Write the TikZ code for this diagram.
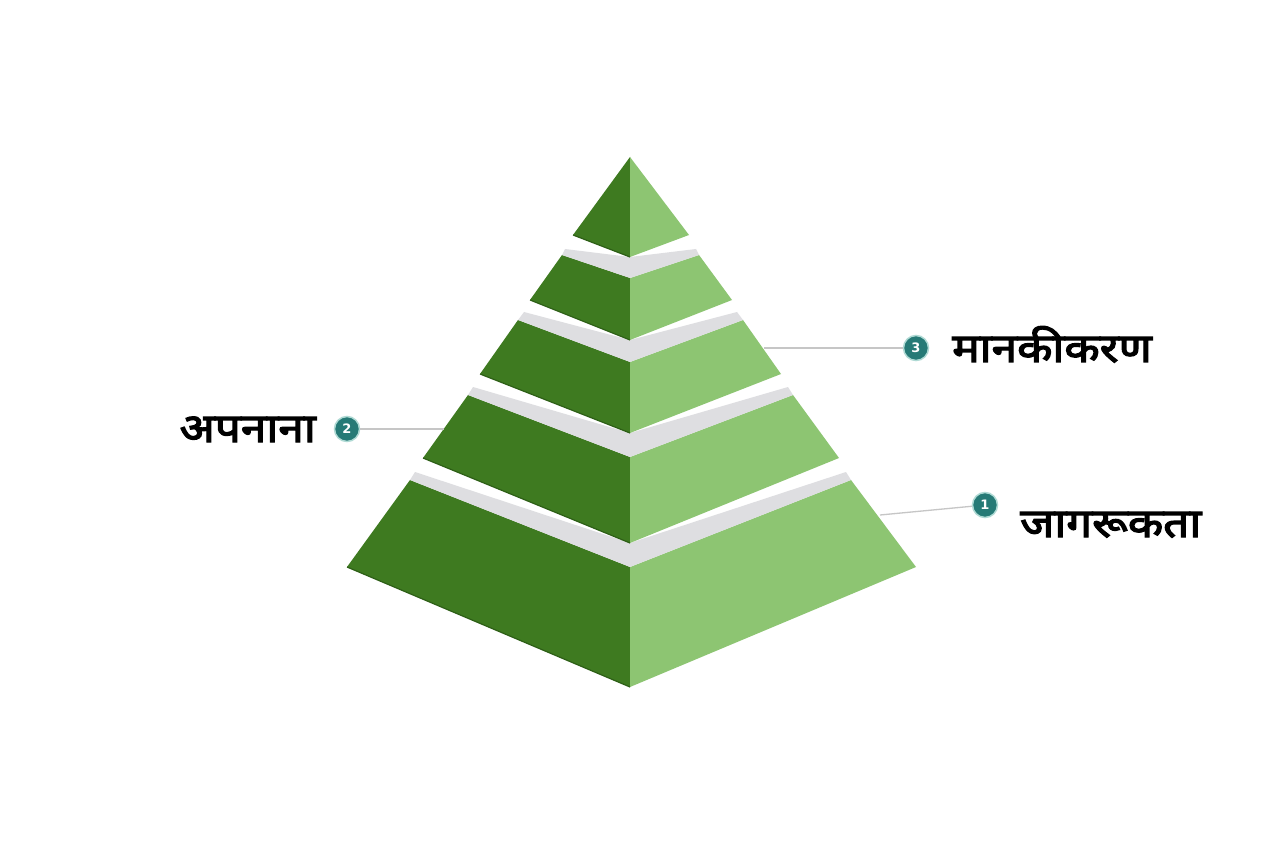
\documentclass[tikz,border=0pt]{standalone}
\usepackage{fontspec}
\setmainfont{Noto Sans}
\newfontfamily\deva[Script=Devanagari,FakeBold=3.2,FakeStretch=1.15]{Noto Sans}
\newfontfamily\numfont{DejaVu Sans}
\definecolor{darkface}{RGB}{62,122,32}
\definecolor{darkedge}{RGB}{45,95,22}
\definecolor{lightface}{RGB}{141,197,114}
\definecolor{topface}{RGB}{222,222,225}
\definecolor{badgefill}{RGB}{38,122,118}
\definecolor{badgerim}{RGB}{175,218,212}
\definecolor{leader}{RGB}{198,198,198}
\tikzset{
  dface/.style={fill=darkface},
  lface/.style={fill=lightface},
  tface/.style={fill=topface},
  bottomline/.style={draw=darkedge,line width=1.2pt},
  badgenode/.style={circle,fill=badgefill,draw=badgerim,line width=1.5pt,minimum size=25pt,inner sep=0pt,text=white,font=\numfont\bfseries\fontsize{13}{13}\selectfont},
  leaderline/.style={draw=leader,line width=1.3pt},
  labeltext/.style={inner sep=0pt,font=\deva\fontsize{40}{40}\selectfont,text=black}
}
\begin{document}
\begin{tikzpicture}[x=1pt,y=-1pt]
\useasboundingbox (0,0) rectangle (1264,842);
\fill[white] (0,0) rectangle (1264,842);

% ---------- tier 5 (bottom) ----------
\fill[dface] (410,480) -- (630,567) -- (630,687) -- (347,567) -- cycle;
\fill[lface] (630,567) -- (851,480) -- (916,567) -- (630,687) -- cycle;
\draw[bottomline] (347,567) -- (630,687);
\fill[tface] (410,480) -- (630,567) -- (851,480) -- (846,472) -- (630,543) -- (415,472) -- cycle;

% ---------- tier 4 ----------
\fill[dface] (468,395) -- (630,457) -- (630,543) -- (423,458) -- cycle;
\fill[lface] (630,457) -- (793,395) -- (839,458) -- (630,543) -- cycle;
\draw[bottomline] (423,458) -- (630,543);
\fill[tface] (468,395) -- (630,457) -- (793,395) -- (788,387) -- (630,433) -- (473,387) -- cycle;

% ---------- tier 3 ----------
\fill[dface] (518,320) -- (630,362) -- (630,433) -- (480,374) -- cycle;
\fill[lface] (630,362) -- (743,320) -- (781,374) -- (630,433) -- cycle;
\draw[bottomline] (480,374) -- (630,433);
\fill[tface] (518,320) -- (630,362) -- (743,320) -- (737,312) -- (630,340) -- (524,312) -- cycle;

% ---------- tier 2 ----------
\fill[dface] (562,255) -- (630,278) -- (630,340) -- (530,300) -- cycle;
\fill[lface] (630,278) -- (699,255) -- (732,300) -- (630,340) -- cycle;
\draw[bottomline] (530,300) -- (630,340);
\fill[tface] (562,255) -- (630,278) -- (699,255) -- (696,249) -- (630,257) -- (565,249) -- cycle;

% ---------- tier 1 (top) ----------
\fill[dface] (630,157) -- (630,257) -- (573,235) -- cycle;
\fill[lface] (630,157) -- (689,235) -- (630,257) -- cycle;
\draw[bottomline] (573,235) -- (630,257);

% ---------- badges, leaders, labels ----------
\coordinate (e3) at (764,348);
\coordinate (e2) at (444,429);
\coordinate (e1) at (880,515);
\node[badgenode] (b3) at (916,348) {3};
\node[badgenode] (b2) at (347,429) {2};
\node[badgenode] (b1) at (985,505) {1};
\draw[leaderline] (e3) -- (b3);
\draw[leaderline] (b2) -- (e2);
\draw[leaderline] (e1) -- (b1);

\node[labeltext,anchor=base west] (l3) at (952,362) {मानकीकरण};
\node[labeltext,anchor=base east] (l2) at (316,442) {अपनाना};
\node[labeltext,anchor=base west] (l1) at (1020,537) {जागरूकता};
\end{tikzpicture}
\end{document}
